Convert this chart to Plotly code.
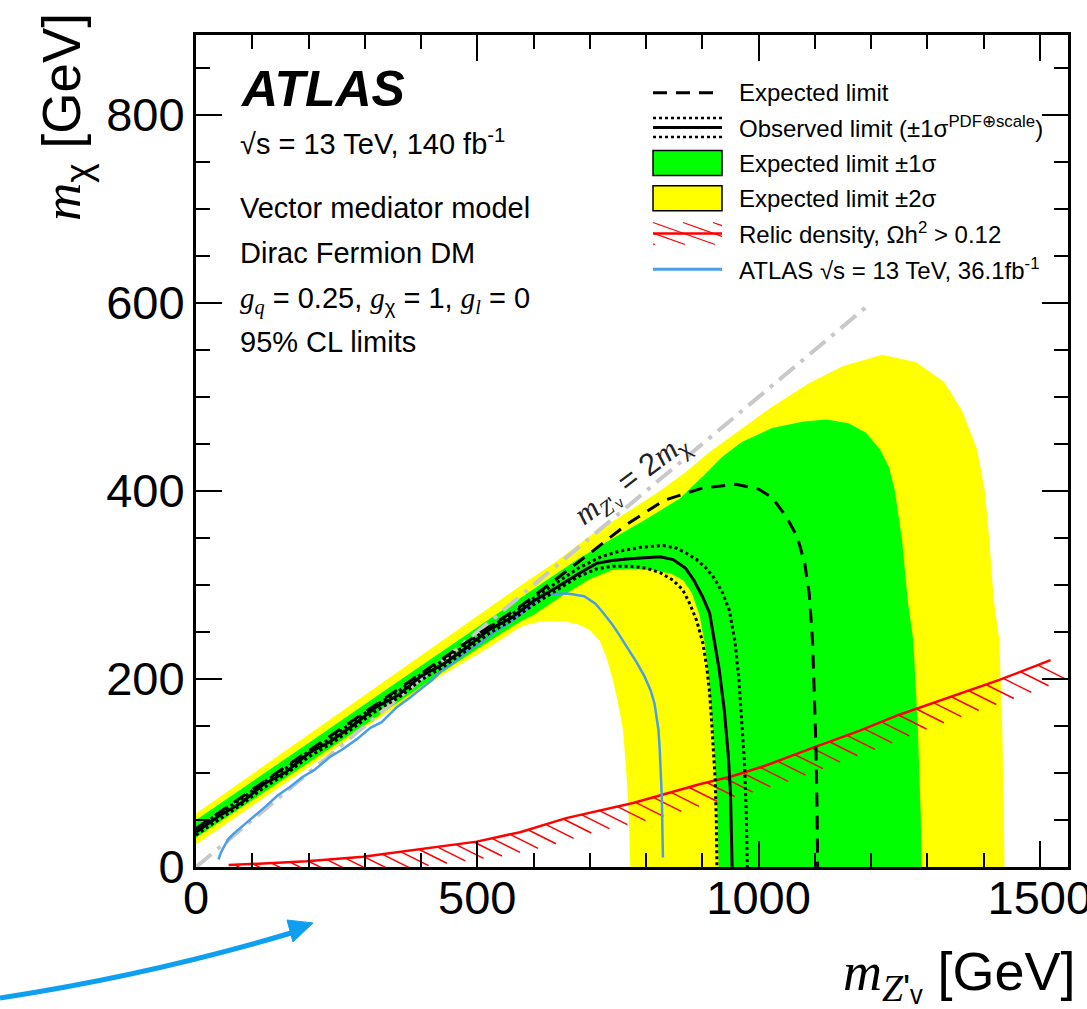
import numpy as np
import plotly.graph_objects as go

# ---------------- data (GeV) ----------------
# Expected limit (dashed)
exp_mz = [0, 100, 200, 300, 400, 505, 576, 640, 703, 767, 832, 900, 960, 1000, 1024,
          1050, 1069, 1082, 1090, 1096, 1100, 1102, 1104, 1105]
exp_mchi = [41, 82, 123, 164, 205, 249, 277, 306, 335, 365, 390, 403, 407, 402, 393,
            372, 351, 323, 291, 240, 167, 128, 60, 0]

# Observed limit (solid) and its PDF+scale variations (dotted)
obs_mz = [0, 40, 80, 120, 160, 200, 240, 280, 320, 360, 400, 440, 480, 520, 560, 600,
          640, 680, 712, 740, 771, 800, 825, 848, 870, 885, 900, 913, 922, 930, 939,
          946, 950, 952, 953]
obs_mchi = [37, 54, 68, 88, 101, 121, 134, 151, 170, 183, 203, 216, 233, 252, 265, 283,
            297, 312, 323, 326, 328, 329, 330, 327, 318, 305, 288, 270, 240, 210, 167,
            120, 80, 30, 0]
obs_lo_mz = [0, 40, 80, 120, 160, 200, 240, 280, 320, 360, 400, 440, 480, 520, 560, 600,
             640, 680, 712, 741, 770, 800, 825, 848, 865, 877, 890, 901, 908, 913, 917,
             920, 923, 925, 926]
obs_lo_mchi = [34, 50, 66, 84, 99, 117, 131, 148, 166, 180, 199, 213, 230, 248, 262, 279,
               294, 309, 317, 320, 320, 318, 313, 305, 295, 281, 262, 238, 212, 185, 150,
               120, 92, 45, 0]
obs_hi_mz = [0, 40, 80, 120, 160, 200, 240, 280, 320, 360, 400, 440, 480, 520, 560, 600,
             640, 680, 720, 753, 790, 830, 855, 871, 890, 905, 919, 935, 948, 958, 965,
             970, 975, 978, 980]
obs_hi_mchi = [40, 57, 72, 90, 105, 123, 137, 155, 172, 187, 205, 220, 236, 255, 268, 286,
               302, 318, 330, 336, 340, 342, 339, 334, 327, 319, 309, 293, 273, 240, 200,
               160, 110, 60, 0]

# Expected +-2 sigma band (closed contour: outer edge, then inner edge back)
band2_mz = [0, 100, 200, 300, 400, 500, 576, 640, 700, 760, 820, 870, 910, 960, 1020,
            1088, 1150, 1220, 1280, 1330, 1362, 1388, 1402, 1410, 1418, 1428, 1433, 1436,
            1437,
            772, 769, 765, 759, 750, 741, 730, 718, 700, 680, 658, 630, 611, 590, 576,
            540, 505, 440, 380, 300, 200, 100, 0]
band2_mchi = [57, 99, 141, 183, 225, 267, 299, 325, 352, 375, 398, 420, 440, 462, 488,
              514, 533, 545, 537, 516, 485, 445, 401, 348, 284, 241, 150, 60,
              0,
              0, 60, 100, 146, 175, 199, 222, 240, 252, 258, 261, 262, 261, 258, 255,
              241, 228, 205, 180, 148, 106, 65, 24]

# Expected +-1 sigma band
band1_mz = [0, 100, 200, 300, 400, 500, 576, 623, 680, 742, 800, 860, 900, 935, 970,
            1024, 1080, 1121, 1160, 1191, 1216, 1232, 1242, 1255, 1265, 1275, 1283, 1288,
            1290,
            929, 927, 921, 912, 905, 895, 881, 866, 845, 810, 771, 740, 700, 650, 600,
            576, 500, 400, 300, 200, 100, 0]
band1_mchi = [50, 91, 132, 173, 214, 255, 286, 305, 328, 350, 370, 392, 415, 436, 452,
              467, 474, 476, 472, 462, 444, 425, 401, 348, 284, 241, 150, 60,
              0,
              0, 57, 128, 199, 235, 268, 292, 305, 312, 316, 317, 316, 306, 288, 268,
              261, 232, 192, 151, 111, 71, 31]

# Previous ATLAS result, 36.1 fb^-1
atlas36_mz = [40, 44, 50, 58, 66, 80, 95, 108, 125, 145, 167, 190, 210, 238, 260, 286,
              310, 330, 357, 380, 400, 420, 439, 460, 480, 505, 530, 555, 576, 600, 623,
              645, 660, 690, 710, 723, 740, 750, 765, 783, 797, 808, 815, 818, 822, 824,
              826, 828, 829, 830]
atlas36_mchi = [8, 15, 22, 30, 35, 42, 50, 57, 65, 76, 85, 96, 103, 117, 125, 136, 148,
                154, 170, 180, 190, 199, 210, 218, 229, 238, 250, 259, 268, 281, 290,
                291, 291, 288, 280, 271, 258, 249, 235, 218, 203, 188, 174, 162, 146,
                128, 100, 75, 40, 10]

# Relic density curve, Omega h^2 = 0.12
relic_mz = [58, 130, 197, 297, 398, 499, 576, 658, 777, 895, 950, 1013, 1102, 1180, 1250,
            1330, 1428, 1519]
relic_mchi = [2, 4, 6, 11, 19, 27, 37, 52, 68, 88, 96, 108, 128, 145, 162, 179, 199, 220]

# Kinematic boundary m_Z' = 2 m_chi
diag_mz = [0, 1200]
diag_mchi = [0, 600]

x_ticks = [0, 500, 1000, 1500]
y_ticks = [0, 200, 400, 600, 800]

# ---------------- page geometry ----------------
FIG_W, FIG_H = 1087, 1009
M_L, M_R, M_T, M_B = 196, 19, 35, 142
X_RANGE = [0, 1550]
Y_RANGE = [0, 885]
PLOT_W = FIG_W - M_L - M_R
PLOT_H = FIG_H - M_T - M_B
KX = PLOT_W / (X_RANGE[1] - X_RANGE[0])   # pixels per GeV along x
KY = PLOT_H / (Y_RANGE[1] - Y_RANGE[0])   # pixels per GeV along y


def pxx(p):
    """page pixel column -> paper x"""
    return (p - M_L) / PLOT_W


def pxy(p):
    """page pixel row -> paper y"""
    return (FIG_H - M_B - p) / PLOT_H


SANS = "Liberation Sans, Arial, Helvetica, sans-serif"
SERIF = "Liberation Serif, Times New Roman, serif"


def it_serif(s):
    return f"<span style='font-family:{SERIF}'><i>{s}</i></span>"


YELLOW = "#ffff00"
GREEN = "#00ff00"
RED = "#ff0000"
BLUE = "#4a9ee8"
GREY = "#c8c8c8"
DASH = "14px,9px"

fig = go.Figure()

# bands
fig.add_trace(go.Scatter(x=band2_mz, y=band2_mchi, fill="toself", fillcolor=YELLOW,
                         mode="none", hoverinfo="skip"))
fig.add_trace(go.Scatter(x=band1_mz, y=band1_mchi, fill="toself", fillcolor=GREEN,
                         mode="none", hoverinfo="skip"))

# m_Z' = 2 m_chi line
fig.add_trace(go.Scatter(x=diag_mz, y=diag_mchi, mode="lines",
                         line=dict(color=GREY, width=4, dash="20px,8px,4px,8px")))

# relic density line with hatching on the excluded side
rx = np.array(relic_mz, float)
ry = np.array(relic_mchi, float)
xf = np.linspace(rx[0], rx[-1], 4000)
yf = np.interp(xf, rx, ry)
arc = np.concatenate([[0.0], np.cumsum(np.hypot(np.diff(xf) * KX, np.diff(yf) * KY))])
marks = np.arange(6.0, arc[-1], 18.5)
hx = np.interp(marks, arc, xf)
hy = np.interp(marks, arc, yf)
hatch_x, hatch_y = [], []
for a, b in zip(hx, hy):
    hatch_x += [a, a + 28 / KX, None]
    hatch_y += [b, b - 14 / KY, None]
fig.add_trace(go.Scatter(x=hatch_x, y=hatch_y, mode="lines",
                         line=dict(color=RED, width=1.5)))
fig.add_trace(go.Scatter(x=relic_mz, y=relic_mchi, mode="lines",
                         line=dict(color=RED, width=2.5)))

# previous result
fig.add_trace(go.Scatter(x=atlas36_mz, y=atlas36_mchi, mode="lines",
                         line=dict(color=BLUE, width=2.5)))

# expected / observed contours
fig.add_trace(go.Scatter(x=exp_mz, y=exp_mchi, mode="lines",
                         line=dict(color="black", width=3, dash=DASH)))
fig.add_trace(go.Scatter(x=obs_lo_mz, y=obs_lo_mchi, mode="lines",
                         line=dict(color="black", width=3, dash="dot")))
fig.add_trace(go.Scatter(x=obs_hi_mz, y=obs_hi_mchi, mode="lines",
                         line=dict(color="black", width=3, dash="dot")))
fig.add_trace(go.Scatter(x=obs_mz, y=obs_mchi, mode="lines",
                         line=dict(color="black", width=3)))

# ---------------- legend (drawn by hand) ----------------
shapes = []
annos = []
SX0, SX1, TX = 653, 722, 737
rows = [92.7, 127.5, 163.0, 198.3, 233.5, 269.3]
labels = [
    "Expected limit",
    "Observed limit (±1σ<sup>PDF⊕scale</sup>)",
    "Expected limit ±1σ",
    "Expected limit ±2σ",
    "Relic density, Ωh<sup>2</sup> > 0.12",
    "ATLAS √s = 13 TeV, 36.1fb<sup>-1</sup>",
]


def hline(y, color, width, dash="solid"):
    shapes.append(dict(type="line", xref="paper", yref="paper",
                       x0=pxx(SX0), x1=pxx(SX1), y0=pxy(y), y1=pxy(y),
                       line=dict(color=color, width=width, dash=dash)))


hline(rows[0], "black", 3, DASH)
hline(rows[1] - 9.5, "black", 2.5, "dot")
hline(rows[1], "black", 3)
hline(rows[1] + 9.5, "black", 2.5, "dot")
for r, col in ((rows[2], GREEN), (rows[3], YELLOW)):
    shapes.append(dict(type="rect", xref="paper", yref="paper",
                       x0=pxx(SX0), x1=pxx(SX1), y0=pxy(r + 12.5), y1=pxy(r - 12.5),
                       fillcolor=col, line=dict(color="black", width=1.5)))
# hatch pattern in the relic-density key
top, bot = rows[4] - 11, rows[4] + 11
for xs in np.arange(SX0 - 60, SX1 + 1, 30):
    xa, ya, xb, yb = xs, top, xs + 62, bot
    t0 = max(0.0, (SX0 - xa) / (xb - xa))
    t1 = min(1.0, (SX1 - xa) / (xb - xa))
    if t1 <= t0:
        continue
    shapes.append(dict(type="line", xref="paper", yref="paper",
                       x0=pxx(xa + t0 * (xb - xa)), y0=pxy(ya + t0 * (yb - ya)),
                       x1=pxx(xa + t1 * (xb - xa)), y1=pxy(ya + t1 * (yb - ya)),
                       line=dict(color=RED, width=1.3)))
hline(rows[4], RED, 2.5)
hline(rows[5], BLUE, 3)

for r, lab in zip(rows, labels):
    annos.append(dict(xref="paper", yref="paper", x=pxx(TX), y=pxy(r), text=lab,
                      showarrow=False, xanchor="left", yanchor="middle",
                      font=dict(family=SANS, size=24, color="black")))

# ---------------- descriptive text ----------------
info = [
    ("<b><i>ATLAS</i></b>", 89, 50),
    ("√s = 13 TeV, 140 fb<sup>-1</sup>", 142, 29),
    ("Vector mediator model", 208, 29),
    ("Dirac Fermion DM", 253, 29),
    (f"{it_serif('g')}<sub>{it_serif('q')}</sub> = 0.25, {it_serif('g')}<sub>χ</sub> = 1, "
     f"{it_serif('g')}<sub>{it_serif('l')}</sub> = 0", 300, 29),
    ("95% CL limits", 342, 29),
]
for txt, yy, fs in info:
    annos.append(dict(xref="paper", yref="paper", x=pxx(238), y=pxy(yy), text=txt,
                      showarrow=False, xanchor="left", yanchor="middle",
                      font=dict(family=SANS, size=fs, color="black")))

# label along the kinematic boundary
annos.append(dict(xref="paper", yref="paper", x=pxx(632), y=pxy(480),
                  text=f"{it_serif('m')}<sub>{it_serif('Z')}'ᵥ</sub> = 2{it_serif('m')}<sub>χ</sub>",
                  showarrow=False, textangle=-37, xanchor="center", yanchor="middle",
                  font=dict(family=SANS, size=31, color="#222222")))

# axis titles
annos.append(dict(xref="paper", yref="paper", x=pxx(1077), y=pxy(975),
                  text=f"{it_serif('m')}<sub>{it_serif('Z')}'ᵥ</sub> [GeV]",
                  showarrow=False, xanchor="right", yanchor="middle",
                  font=dict(family=SANS, size=54, color="black")))
annos.append(dict(xref="paper", yref="paper", x=pxx(66), y=pxy(117),
                  text=f"{it_serif('m')}<sub>χ</sub> [GeV]",
                  showarrow=False, textangle=-90, xanchor="center", yanchor="middle",
                  font=dict(family=SANS, size=53, color="black")))

# pointer arrow below the axis
ARROW = "#0f9ff0"
p0, pc, p1 = (0, 998), (150, 975), (291, 933)
shapes.append(dict(type="path", xref="paper", yref="paper",
                   path=f"M {pxx(p0[0])},{pxy(p0[1])} Q {pxx(pc[0])},{pxy(pc[1])} {pxx(p1[0])},{pxy(p1[1])}",
                   line=dict(color=ARROW, width=5)))
head = [(313, 923), (287, 920), (293, 942)]
shapes.append(dict(type="path", xref="paper", yref="paper",
                   path="M " + " L ".join(f"{pxx(a)},{pxy(b)}" for a, b in head) + " Z",
                   fillcolor=ARROW, line=dict(color=ARROW, width=1)))

axis_common = dict(
    showgrid=False, zeroline=False, showline=True, linecolor="black", linewidth=3,
    mirror="ticks", ticks="inside", ticklen=26, tickwidth=2, tickcolor="black",
    tickfont=dict(family=SANS, size=47, color="black"),
    ticklabeloverflow="allow",
)
fig.update_xaxes(range=X_RANGE, tickvals=x_ticks, ticklabelstandoff=-12,
                 minor=dict(dtick=100, tick0=0, ticklen=14, tickwidth=2,
                            ticks="inside", tickcolor="black"),
                 **axis_common)
fig.update_yaxes(range=Y_RANGE, tickvals=y_ticks, ticklabelstandoff=-1,
                 minor=dict(dtick=50, tick0=0, ticklen=14, tickwidth=2,
                            ticks="inside", tickcolor="black"),
                 **axis_common)

fig.update_layout(
    width=FIG_W, height=FIG_H,
    margin=dict(l=M_L, r=M_R, t=M_T, b=M_B, autoexpand=False),
    paper_bgcolor="white", plot_bgcolor="white",
    showlegend=False,
    shapes=shapes, annotations=annos,
)

fig.write_html("out.html")
